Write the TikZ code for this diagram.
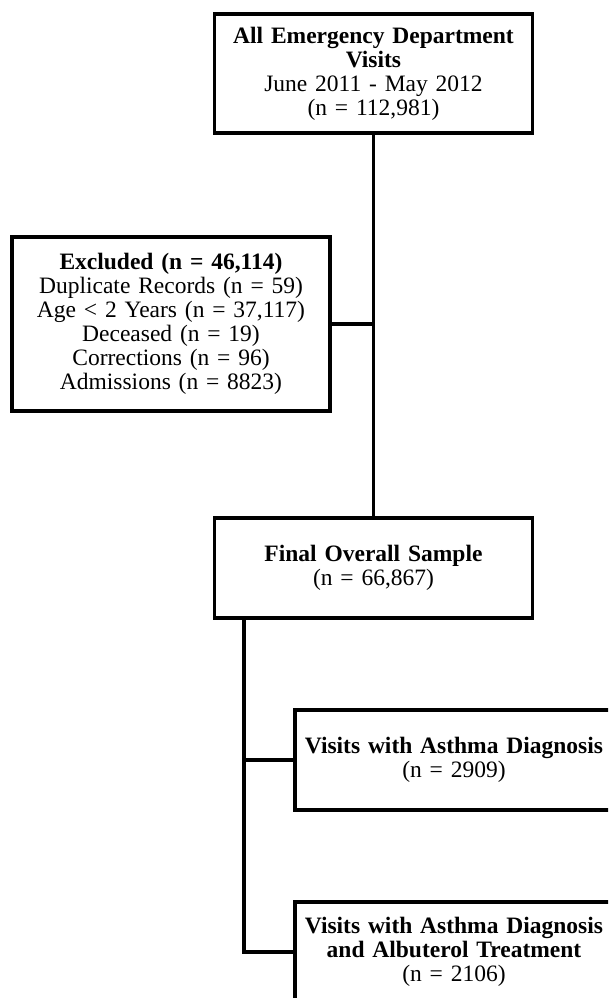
\documentclass[tikz,border=0pt]{standalone}
\usepackage{fontspec}
\setmainfont{Liberation Serif}
\usetikzlibrary{calc}

\begin{document}
\begin{tikzpicture}[
  x=1pt, y=-1pt,
  font=\fontsize{23.5}{24}\selectfont,
  box/.style={draw=black, line width=3.5pt, align=center, text width=300pt,
    minimum width=318pt, minimum height=100pt, inner sep=2pt},
  link/.style={draw=black, line width=3.5pt}
]
\useasboundingbox (0,0) rectangle (608,998);
\clip (0,0) rectangle (608,998);

% cohort boxes, top to bottom
\node[box, minimum height=119pt] (visits) at (373.5,73.5)
  {\textbf{All Emergency Department}\\\textbf{Visits}\\June 2011 - May 2012\\(n = 112,981)};
\node[box, minimum height=174pt] (excluded) at (171,324)
  {\textbf{Excluded (n = 46,114)}\\Duplicate Records (n = 59)\\Age < 2 Years (n = 37,117)\\Deceased (n = 19)\\Corrections (n = 96)\\Admissions (n = 8823)};
\node[box] (final) at (373.5,568) {\textbf{Final Overall Sample}\\(n = 66,867)};
\node[box] (asthma) at (454,760) {\textbf{Visits with Asthma Diagnosis}\\(n = 2909)};
\node[box] (albuterol) at (454,952)
  {\textbf{Visits with Asthma Diagnosis}\\\textbf{and Albuterol Treatment}\\(n = 2106)};

% main trunk and exclusions
\draw[link] (visits.south) -- (final.north);
\draw[link] (excluded.east) -- (excluded.east -| visits.south);

% sub-samples branch off the left side of the final sample
\coordinate (split) at ($(final.south west)+(31,0)$);
\draw[link] (split) |- (asthma.west);
\draw[link] (split) |- (albuterol.west);

\end{tikzpicture}
\end{document}
